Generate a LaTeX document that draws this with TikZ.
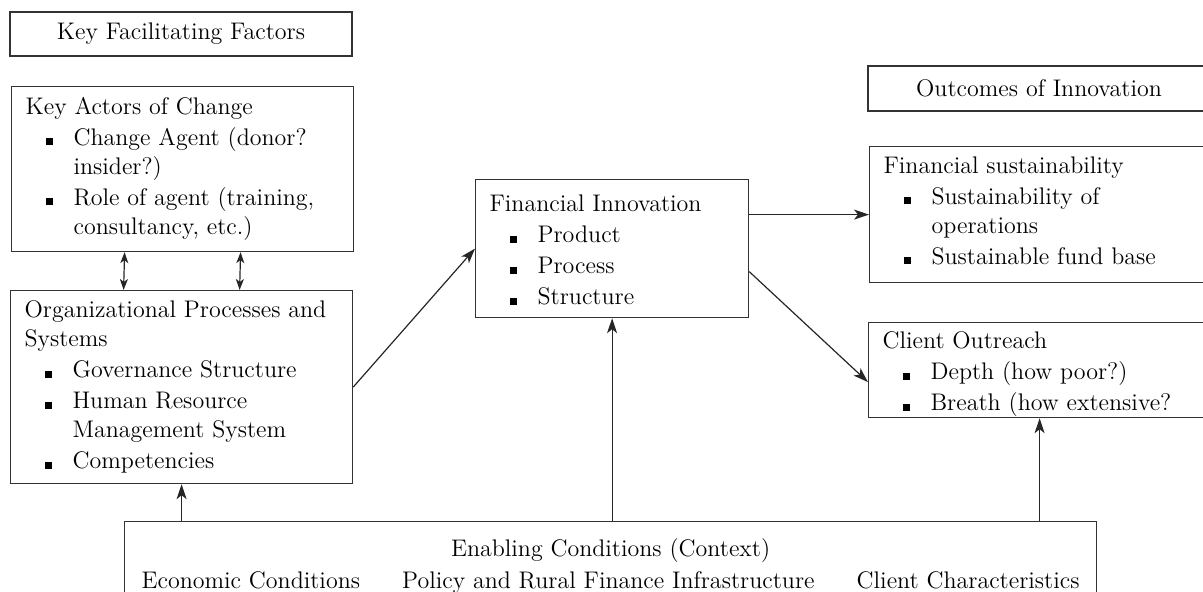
\documentclass[tikz,border=0pt]{standalone}
\usetikzlibrary{arrows.meta}
\newcommand\itm{\par\vspace{1pt}\hangindent=24pt\hangafter=1\noindent\hspace*{10pt}\makebox[14pt][l]{\rule{3.5pt}{3.5pt}}}
\newcommand\panel[4]{\parbox[c][#2][t]{#1}{\raggedright\vspace*{#3}\noindent\strut #4}}
\tikzset{
  box/.style={draw=black!80, line width=0.6pt, inner xsep=7pt, inner ysep=0pt, anchor=north west, font=\fontsize{12}{14.5}\selectfont},
  head/.style={draw=black!80, line width=0.6pt, inner sep=0pt, font=\fontsize{12}{14.5}\selectfont},
  arr/.style={-{Stealth[length=7.5pt,width=5pt,inset=2pt]}, line width=0.6pt, black!85},
  dbl/.style={{Stealth[length=5.5pt,width=4pt,inset=1.5pt]}-{Stealth[length=5.5pt,width=4pt,inset=1.5pt]}, line width=0.6pt, black!85}
}
\begin{document}
\begin{tikzpicture}[x=0.5pt,y=-0.5pt]
\useasboundingbox (0,0) rectangle (1203,592);
% headings
\node[head, minimum width=171pt, minimum height=22pt] (kff) at (181,34) {Key Facilitating Factors};
\node[head, minimum width=171pt, minimum height=22.5pt] (outcomes) at (1039,88.5) {Outcomes of Innovation};
% left column
\node[box] (actors) at (11,86) {\panel{157pt}{82.5pt}{3.6pt}{Key Actors of Change
  \itm Change Agent (donor?\newline insider?)
  \itm Role of agent (training,\newline consultancy, etc.)}};
\node[box] (orgsys) at (10,290) {\panel{157pt}{96.5pt}{3.35pt}{Organizational Processes and\newline Systems
  \itm Governance Structure
  \itm Human Resource\newline Management System
  \itm Competencies}};
% middle
\node[box] (fininn) at (475,179) {\panel{122.5pt}{69pt}{6pt}{Financial Innovation
  \itm Product
  \itm Process
  \itm Structure}};
% right column
\node[box] (finsus) at (869,146) {\panel{156.5pt}{68pt}{3.3pt}{Financial sustainability
  \itm Sustainability of\newline operations
  \itm Sustainable fund base}};
\node[box] (outreach) at (868,322) {\panel{157pt}{47.5pt}{3pt}{Client Outreach
  \itm Depth (how poor?)
  \itm Breath (how extensive?}};
% context
\node[box, inner xsep=8.5pt] (enabling) at (124,521) {\parbox[c][42pt][t]{469pt}{\vspace*{7.35pt}\strut\hfill Enabling Conditions (Context)\hfill\strut\\[1.5pt]
  Economic Conditions\hfill Policy and Rural Finance Infrastructure\hfill Client Characteristics}};
% arrows
\draw[dbl] ([xshift=-29pt]actors.south) -- ([xshift=-29pt]orgsys.north);
\draw[dbl] ([xshift=29pt]actors.south) -- ([xshift=29pt]orgsys.north);
\draw[arr] (orgsys.east) -- (fininn.west);
\draw[arr] (fininn.east |- finsus.west) -- (finsus.west);
\draw[arr] ([yshift=-11.5pt]fininn.east) -- ([yshift=-6pt]outreach.west);
\draw[arr] (enabling.north -| orgsys.south) -- (orgsys.south);
\draw[arr] (enabling.north -| fininn.south) -- (fininn.south);
\draw[arr] (enabling.north -| outreach.south) -- (outreach.south);
\end{tikzpicture}
\end{document}
